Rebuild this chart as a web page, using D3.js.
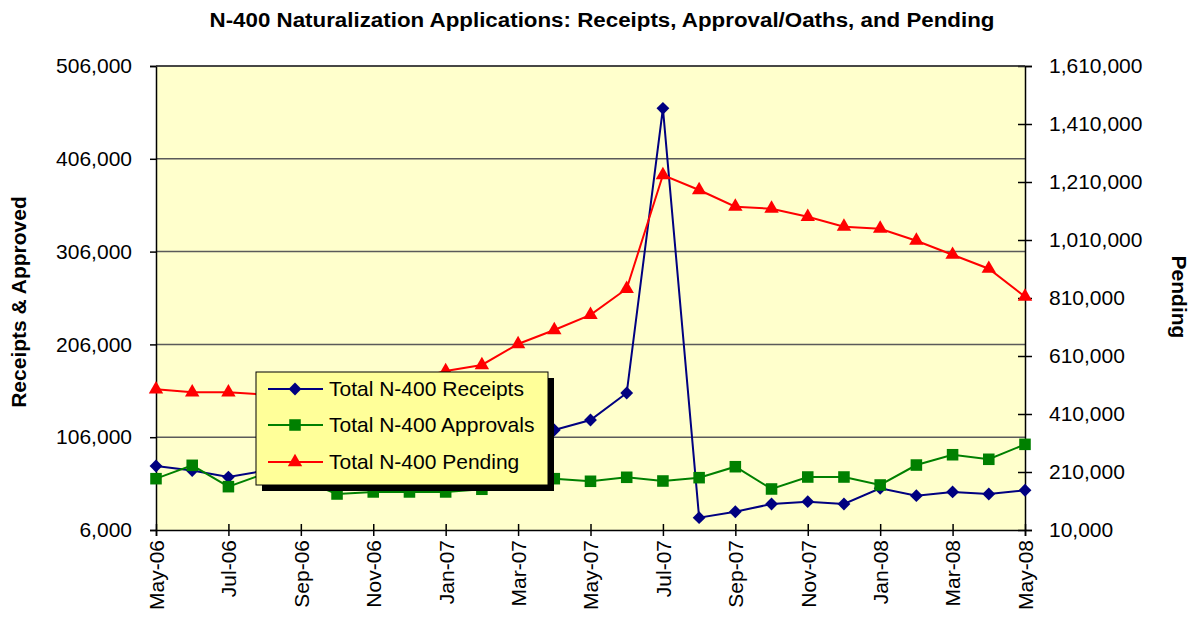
<!DOCTYPE html>
<html>
<head>
<meta charset="utf-8">
<script src="https://cdn.jsdelivr.net/npm/d3@7"></script>
<style>
    body { margin: 0; background: #fff; }
    svg { display: block; font-family: Arial, "Liberation Sans", sans-serif; }
</style>
</head>
<body>
<div id="chart"></div>
<script>
const months = ['May-06', 'Jun-06', 'Jul-06', 'Aug-06', 'Sep-06', 'Oct-06', 'Nov-06', 'Dec-06',
    'Jan-07', 'Feb-07', 'Mar-07', 'Apr-07', 'May-07', 'Jun-07', 'Jul-07', 'Aug-07', 'Sep-07',
    'Oct-07', 'Nov-07', 'Dec-07', 'Jan-08', 'Feb-08', 'Mar-08', 'Apr-08', 'May-08'];

const receipts = [75000, 70000, 63000, 70000, 73000, 78000, 72000, 62000, 80000, 92000, 104000,
    113800, 124500, 153600, 460400, 19300, 25700, 34000, 36500, 34000, 50900, 43000, 47000, 44800, 48800];

const approvals = [61300, 75700, 52700, 66700, 60000, 44800, 47000, 47000, 47000, 49900, 55000,
    61300, 58500, 62800, 58800, 62400, 74200, 50200, 63100, 63100, 54500, 76000, 87100, 82200, 98300];

const pending = [495000, 484800, 484800, 477000, 485000, 495000, 505000, 525000, 558300, 579000, 651400,
    699700, 752000, 842000, 1234000, 1182400, 1125000, 1118000, 1090000, 1056000, 1049000, 1007600,
    959300, 911000, 814500];

const leftTicks = [6000, 106000, 206000, 306000, 406000, 506000];
const rightTicks = [10000, 210000, 410000, 610000, 810000, 1010000, 1210000, 1410000, 1610000];
const monthTicks = ['May-06', 'Jul-06', 'Sep-06', 'Nov-06', 'Jan-07', 'Mar-07', 'May-07',
    'Jul-07', 'Sep-07', 'Nov-07', 'Jan-08', 'Mar-08', 'May-08'];

const W = 1194, H = 622;
const plot = {left: 156, right: 1025, top: 66, bottom: 530};

const svg = d3.select('#chart').append('svg')
    .attr('width', W)
    .attr('height', H);

const x = d3.scalePoint().domain(months).range([plot.left, plot.right]);
const yL = d3.scaleLinear().domain([6000, 506000]).range([plot.bottom, plot.top]);
const yR = d3.scaleLinear().domain([10000, 1610000]).range([plot.bottom, plot.top]);

// plot background
svg.append('rect')
    .attr('x', plot.left)
    .attr('y', plot.top)
    .attr('width', plot.right - plot.left)
    .attr('height', plot.bottom - plot.top)
    .attr('fill', '#ffffcc');

// gridlines
svg.append('g')
    .selectAll('line')
    .data(leftTicks.slice(1))
    .enter().append('line')
    .attr('x1', plot.left)
    .attr('x2', plot.right)
    .attr('y1', d => yL(d))
    .attr('y2', d => yL(d))
    .attr('stroke', '#5a5a5a')
    .attr('stroke-width', 1.5);

// left axis
const leftAxis = svg.append('g')
    .attr('transform', `translate(${plot.left},0)`)
    .call(d3.axisLeft(yL).tickValues(leftTicks).tickFormat(d3.format(',')).tickSize(6).tickPadding(18));
leftAxis.select('.domain').attr('stroke', '#000').attr('stroke-width', 1.5);
leftAxis.selectAll('.tick line').attr('stroke', '#000').attr('stroke-width', 1.5);
leftAxis.selectAll('text').attr('font-size', 21).attr('fill', '#000').attr('font-family', 'Arial, "Liberation Sans", sans-serif');

// right axis
const rightAxis = svg.append('g')
    .attr('transform', `translate(${plot.right},0)`)
    .call(d3.axisRight(yR).tickValues(rightTicks).tickFormat(d3.format(',')).tickSize(7).tickPadding(17));
rightAxis.select('.domain').attr('stroke', '#000').attr('stroke-width', 1.5);
rightAxis.selectAll('.tick line').attr('x1', -7).attr('stroke', '#000').attr('stroke-width', 1.5);
rightAxis.selectAll('text').attr('font-size', 21).attr('fill', '#000').attr('font-family', 'Arial, "Liberation Sans", sans-serif');

// bottom axis
const bottomAxis = svg.append('g')
    .attr('transform', `translate(0,${plot.bottom})`)
    .call(d3.axisBottom(x).tickValues(monthTicks).tickSize(6));
bottomAxis.select('.domain').attr('stroke', '#000').attr('stroke-width', 1.5);
bottomAxis.selectAll('.tick line').attr('y1', -6).attr('stroke', '#000').attr('stroke-width', 1.5);
bottomAxis.selectAll('text')
    .attr('font-size', 21)
    .attr('fill', '#000')
    .attr('font-family', 'Arial, "Liberation Sans", sans-serif')
    .attr('transform', 'rotate(-90)')
    .attr('text-anchor', 'end')
    .attr('x', -10)
    .attr('y', 0)
    .attr('dy', '0.35em');

// top border
svg.append('line')
    .attr('x1', plot.left)
    .attr('x2', plot.right)
    .attr('y1', plot.top)
    .attr('y2', plot.top)
    .attr('stroke', '#333')
    .attr('stroke-width', 1.5);

const diamond = d3.symbol().type(d3.symbolDiamond2).size(105);
const square = d3.symbol().type(d3.symbolSquare2).size(170);
const triangle = d3.symbol().type(d3.symbolTriangle).size(90);

const series = [
    {name: 'Total N-400 Receipts', values: receipts, y: yL, color: '#000080', marker: diamond},
    {name: 'Total N-400 Approvals', values: approvals, y: yL, color: '#008000', marker: square},
    {name: 'Total N-400 Pending', values: pending, y: yR, color: '#ff0000', marker: triangle}
];

series.forEach(s => {
    const line = d3.line()
        .x((d, i) => x(months[i]))
        .y(d => s.y(d));

    svg.append('path')
        .datum(s.values)
        .attr('d', line)
        .attr('fill', 'none')
        .attr('stroke', s.color)
        .attr('stroke-width', 2);

    svg.append('g')
        .selectAll('path')
        .data(s.values)
        .enter().append('path')
        .attr('d', s.marker)
        .attr('transform', (d, i) => `translate(${x(months[i])},${s.y(d)})`)
        .attr('fill', s.color);
});

// legend
const legend = {x: 256, y: 372, w: 292, h: 113};
svg.append('rect')
    .attr('x', legend.x + 6)
    .attr('y', legend.y + 6)
    .attr('width', legend.w)
    .attr('height', legend.h)
    .attr('fill', '#000');
svg.append('rect')
    .attr('x', legend.x)
    .attr('y', legend.y)
    .attr('width', legend.w)
    .attr('height', legend.h)
    .attr('fill', '#ffff99')
    .attr('stroke', '#000')
    .attr('stroke-width', 1);

const rowY = [389, 425, 462];
series.forEach((s, i) => {
    const g = svg.append('g').attr('transform', `translate(0,${rowY[i]})`);
    g.append('line')
        .attr('x1', 268)
        .attr('x2', 323)
        .attr('stroke', s.color)
        .attr('stroke-width', 2);
    g.append('path')
        .attr('d', s.marker)
        .attr('transform', 'translate(295,0)')
        .attr('fill', s.color);
    g.append('text')
        .attr('x', 329)
        .attr('dy', '0.35em')
        .attr('font-size', 21)
        .text(s.name);
});

// titles
svg.append('text')
    .attr('x', 602)
    .attr('y', 27)
    .attr('text-anchor', 'middle')
    .attr('textLength', 785)
    .attr('lengthAdjust', 'spacingAndGlyphs')
    .style('font-size', '20px')
    .style('font-weight', 'bold')
    .text('N-400 Naturalization Applications: Receipts, Approval/Oaths, and Pending');

svg.append('text')
    .attr('transform', 'translate(26,302) rotate(-90)')
    .attr('text-anchor', 'middle')
    .style('font-size', '21px')
    .style('font-weight', 'bold')
    .text('Receipts & Approved');

svg.append('text')
    .attr('transform', 'translate(1172,297) rotate(90)')
    .attr('text-anchor', 'middle')
    .style('font-size', '21px')
    .style('font-weight', 'bold')
    .text('Pending');
</script>
</body>
</html>
